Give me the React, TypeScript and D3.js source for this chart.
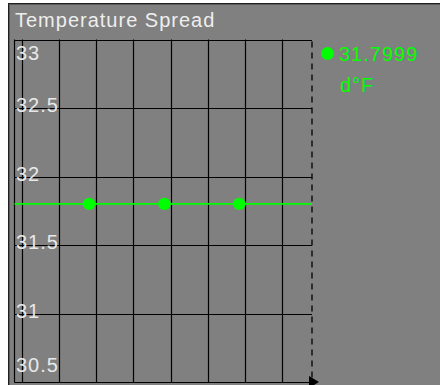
import React from "react";
import * as d3 from "d3";

const title = "Temperature Spread";
const yTicks = [33, 32.5, 32, 31.5, 31, 30.5];
const xGridTimes = [0, 10, 20, 30, 40, 50, 60, 70];
const sampleTimes = [17.9, 38.1, 58.2];
const sampleValues = [31.7999, 31.7999, 31.7999];
const currentTime = 77.7;
const legendValue = "31.7999";
const legendUnit = "d°F";

const W = 440;
const H = 385;
const FONT = "'Liberation Sans', Arial, sans-serif";
const GREEN = "#00ff00";
const INK = "#000000";

export default function App() {
  const x = d3.scaleLinear().domain([0, currentTime]).range([22.5, 312]);
  const y = d3.scaleLinear().domain([30.5, 33]).range([382, 39.5]);
  const frameLeft = 14.5;
  const xEnd = x(currentTime);
  const yTop = y(33);
  const yBot = y(30.5);
  const last = sampleValues[sampleValues.length - 1];
  const line = d3.line<[number, number]>().x((d) => d[0]).y((d) => d[1]);
  const seriesPath = line([
    [frameLeft, y(sampleValues[0])],
    ...sampleTimes.map((t, i) => [x(t), y(sampleValues[i])] as [number, number]),
    [xEnd, y(last)],
  ]);

  const labelY = (v: number) => {
    const b = y(v) + 4;
    return Math.min(Math.max(b, yTop + 20), yBot - 10);
  };

  return (
    <svg
      width={W}
      height={H}
      style={{ position: "absolute", left: 0, top: 0, display: "block" }}
      fontFamily={FONT}
    >
      <rect x={0} y={0} width={W} height={H} fill="#ffffff" />
      <rect x={8} y={3} width={W - 8} height={H - 3} fill="#808080" />
      <line x1={8} y1={3.5} x2={W} y2={3.5} stroke="#202020" strokeWidth={1} />
      <line x1={8.5} y1={3} x2={8.5} y2={H} stroke="#202020" strokeWidth={1} />
      <line x1={9} y1={4.5} x2={W} y2={4.5} stroke="#5a5a5a" strokeWidth={1} />
      <line x1={9.5} y1={4} x2={9.5} y2={H} stroke="#5a5a5a" strokeWidth={1} />

      <text x={15} y={27} fill="#eeeeee" fontSize={20} letterSpacing={1}>
        {title}
      </text>

      {/* horizontal grid */}
      {yTicks.map((v) => (
        <line key={"h" + v} x1={frameLeft} x2={xEnd} y1={Math.round(y(v)) + 0.5} y2={Math.round(y(v)) + 0.5} stroke={INK} strokeWidth={1.2} />
      ))}
      {/* vertical grid */}
      {xGridTimes.map((t) => (
        <line key={"v" + t} x1={Math.round(x(t)) - 0.5} x2={Math.round(x(t)) - 0.5} y1={yTop} y2={yBot} stroke={INK} strokeWidth={1.2} />
      ))}
      <line x1={frameLeft} x2={frameLeft} y1={yTop} y2={yBot} stroke={INK} strokeWidth={1.2} />
      {/* current time dashed */}
      <line x1={xEnd} x2={xEnd} y1={yTop + 2} y2={yBot} stroke={INK} strokeWidth={1.3} strokeDasharray="6,5" />
      {/* x axis with arrow */}
      <line x1={frameLeft} x2={xEnd} y1={Math.round(yBot) + 0.5} y2={Math.round(yBot) + 0.5} stroke={INK} strokeWidth={1.2} />
      <path d={`M${xEnd - 3},${yBot - 6} L${xEnd + 7},${yBot} L${xEnd - 3},${yBot + 6} Z`} fill={INK} />

      {/* y labels */}
      {yTicks.map((v) => (
        <text key={"l" + v} x={16} y={labelY(v)} fill="#e8e8e8" fontSize={20} letterSpacing={1}>
          {String(v)}
        </text>
      ))}

      {/* series */}
      <path d={seriesPath ?? ""} fill="none" stroke={GREEN} strokeWidth={1.6} />
      {sampleTimes.map((t, i) => (
        <circle key={"p" + i} cx={x(t)} cy={y(sampleValues[i])} r={6.2} fill={GREEN} />
      ))}

      {/* legend */}
      <circle cx={327.5} cy={53.5} r={6.5} fill={GREEN} />
      <text x={339} y={61} fill={GREEN} fontSize={20} letterSpacing={1}>
        {legendValue}
      </text>
      <text x={340} y={92} fill={GREEN} fontSize={20} letterSpacing={1}>
        {legendUnit}
      </text>
    </svg>
  );
}
